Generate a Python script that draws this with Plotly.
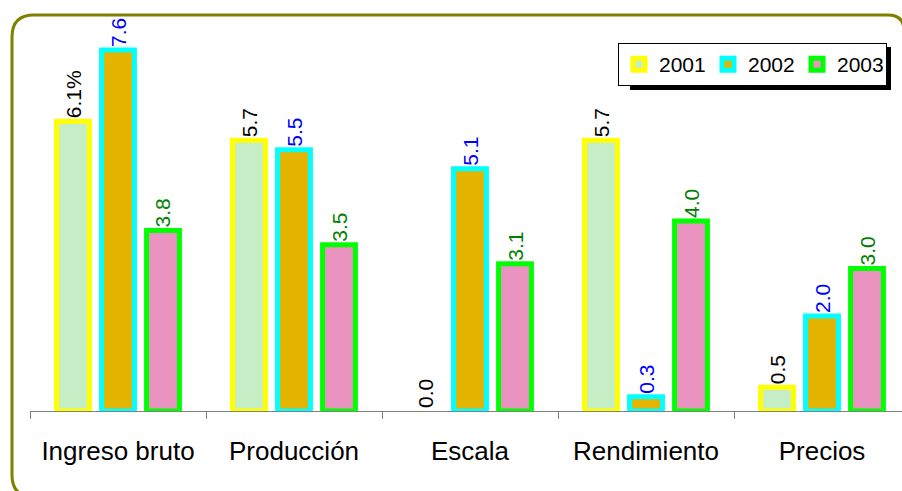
import plotly.graph_objects as go

categories = ["Ingreso bruto", "Producción", "Escala", "Rendimiento", "Precios"]
years = ["2001", "2002", "2003"]
v2001 = [6.1, 5.7, 0.0, 5.7, 0.5]
v2002 = [7.6, 5.5, 5.1, 0.3, 2.0]
v2003 = [3.8, 3.5, 3.1, 4.0, 3.0]
labels2001 = ["6.1%", "5.7", "0.0", "5.7", "0.5"]

W, H = 902, 491
ML, MR, MT, MB = 30, 0, 12, 80
PW, PH = W - ML - MR, H - MT - MB

def px(x):
    return (x - ML) / PW

def py(y):
    return (H - MB - y) / PH

series = [
    (years[0], v2001, "#c6eec6", "#ffff00", "#000000", labels2001),
    (years[1], v2002, "#e3b400", "#00ffff", "#0000ff", [f"{v:.1f}" for v in v2002]),
    (years[2], v2003, "#ea92c0", "#00ff00", "#008000", [f"{v:.1f}" for v in v2003]),
]

fig = go.Figure()
for name, vals, fill, border, tcol, txt in series:
    fig.add_trace(go.Bar(
        name=name, x=categories, y=vals,
        marker=dict(color=fill, line=dict(color=border, width=[5 if v > 0 else 0 for v in vals])),
        text=txt, textposition="outside", textangle=-90, constraintext="none",
        textfont=dict(family="Liberation Sans, Arial", size=21, color=tcol),
        cliponaxis=False,
    ))

frame = (f"M {px(888)},{py(15)} L {px(34)},{py(15)} "
         f"Q {px(12)},{py(15)} {px(12)},{py(37)} "
         f"L {px(12)},{py(475)} Q {px(12)},{py(497)} {px(34)},{py(497)} "
         f"L {px(910)},{py(497)} L {px(904)},{py(500)} L {px(904)},{py(31)} "
         f"Q {px(904)},{py(15)} {px(888)},{py(15)} Z")

fig.update_layout(
    width=W, height=H,
    margin=dict(l=ML, r=MR, t=MT, b=MB, pad=0, autoexpand=False),
    paper_bgcolor="white", plot_bgcolor="white",
    barmode="group", bargap=0.233, bargroupgap=0.27,
    showlegend=True,
    legend=dict(orientation="h", x=px(887), y=py(43), xanchor="right", yanchor="top",
                bgcolor="white", bordercolor="black", borderwidth=1,
                font=dict(family="Liberation Sans, Arial", size=21, color="black"),
                itemwidth=30, entrywidth=44, tracegroupgap=0),
    xaxis=dict(type="category", range=[-0.5, 4.4545], showline=True, linecolor="#808080",
               linewidth=1, ticks="outside", tickson="boundaries", ticklen=7,
               tickcolor="#808080", showgrid=False, zeroline=False, automargin=False,
               ticklabelstandoff=17,
               tickfont=dict(family="Liberation Sans, Arial", size=26, color="black")),
    yaxis=dict(range=[0, 8.4], visible=False, showgrid=False, zeroline=False, automargin=False),
    shapes=[
        dict(type="path", xref="paper", yref="paper", path=frame,
             line=dict(color="#808000", width=3), layer="below"),
        dict(type="rect", xref="paper", yref="paper", x0=px(630), x1=px(891),
             y0=py(47), y1=py(90), fillcolor="black", line=dict(width=0), layer="above"),
    ],
)

fig.write_html("out.html", config={"displayModeBar": False},
               post_script="document.body.style.margin='0';document.body.style.overflow='hidden';")
